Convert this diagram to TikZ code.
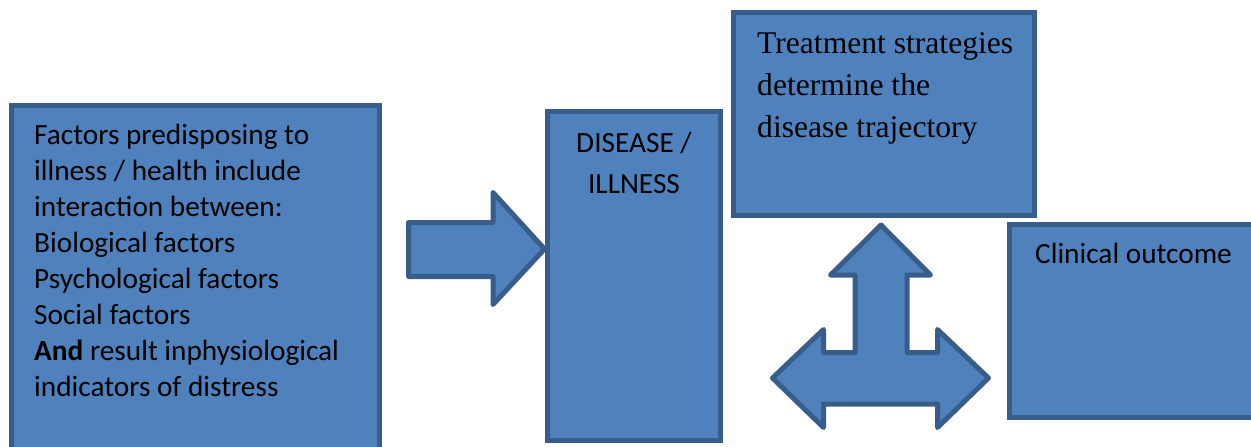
\documentclass[tikz,border=0pt]{standalone}
\usepackage{fontspec}
\setmainfont{Carlito}
\newfontfamily\timesfont{Liberation Serif}
\definecolor{boxfill}{HTML}{4F81BD}
\definecolor{boxline}{HTML}{385D8A}
\begin{document}
\begin{tikzpicture}[x=1pt,y=-1pt,
  box/.style={draw=boxline,fill=boxfill,line width=5pt,rectangle,inner sep=0pt,outer sep=0pt,anchor=north west},
  blockarrow/.style={draw=boxline,fill=boxfill,line width=5pt,line join=round},
  sanstext/.style={inner sep=0pt,align=left,font=\fontsize{29.3}{35.86}\selectfont},
  seriftext/.style={inner sep=0pt,align=left,font=\timesfont\fontsize{31.6}{42}\selectfont}]
\useasboundingbox (0,0) rectangle (1251,447);
\clip (0,0) rectangle (1251,447);
% boxes
\node[box,minimum width=368pt,minimum height=360pt] (factors) at (11.5,105.5) {};
\node[box,minimum width=173pt,minimum height=329pt] (disease) at (547.5,111.5) {};
\node[box,minimum width=301pt,minimum height=203pt] (treatment) at (733.5,12.5) {};
\node[box,minimum width=260pt,minimum height=193pt] (clinical) at (1009.5,224.5) {};
% right arrow
\draw[blockarrow] (408.5,222.5) -- (493,222.5) -- (493,192.5) -- (544.5,249)
  -- (493,304.5) -- (493,276.5) -- (408.5,276.5) -- cycle;
% T arrow
\draw[blockarrow] (881,225) -- (930.5,275) -- (907,275) -- (907,352.5) -- (937.5,352.5)
  -- (937.5,329.5) -- (988.5,378) -- (937.5,427.5) -- (937.5,404) -- (823.5,404)
  -- (823.5,427.5) -- (772.5,378) -- (823.5,329.5) -- (823.5,352.5) -- (855,352.5)
  -- (855,275) -- (830.5,275) -- cycle;
% texts (base anchor = baseline of the last line)
\node[sanstext,anchor=base west] (factorsText) at (34,396)
  {Factors predisposing to\\illness / health include\\interaction between:\\Biological factors\\Psychological factors\\Social factors\\\textbf{And} result inphysiological\\indicators of distress};
\node[sanstext,align=center,anchor=base,font=\fontsize{29.3}{41}\selectfont] (diseaseText) at (disease.north |- 0,193) {DISEASE /\\ILLNESS};
\node[seriftext,anchor=base west] (treatmentText) at (757,137)
  {Treatment strategies\\determine the\\disease trajectory};
\node[sanstext,anchor=base west] (clinicalText) at (1035,263) {Clinical outcome};
\end{tikzpicture}
\end{document}
